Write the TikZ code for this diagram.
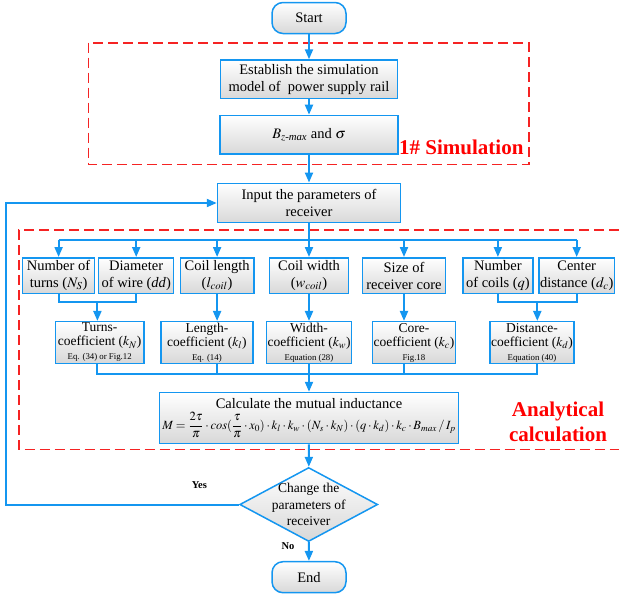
\documentclass[tikz,border=0pt]{standalone}
\usepackage{amsmath}
\usepackage{mathptmx}
\usepackage{fontspec}
\setmainfont{Liberation Serif}
\usetikzlibrary{arrows.meta,shapes.geometric,calc}
\definecolor{fcblue}{RGB}{20,150,240}
\definecolor{fcred}{RGB}{245,35,35}
\definecolor{fcgray}{RGB}{216,216,216}
\newcommand{\mainsz}{\fontsize{14.5}{17}\selectfont}
\newcommand{\coefsz}{\fontsize{13.5}{14}\selectfont}
\newcommand{\notesz}{\fontsize{8.8}{10}\selectfont}

\begin{document}
\begin{tikzpicture}[x=1pt,y=-1pt,
  box/.style={draw=fcblue,line width=1.5pt,top color=white,bottom color=fcgray,
    align=center,inner sep=1pt,font=\mainsz},
  term/.style={box,rounded corners=11pt,minimum width=74pt,minimum height=31pt},
  bigbox/.style={box,minimum width=#1,minimum height=38.5pt},
  parbox/.style={box,minimum width=#1,minimum height=35.5pt},
  coefbox/.style={box,font=\coefsz,minimum width=#1,minimum height=41.6pt},
  decide/.style={diamond,draw=fcblue,line width=1.5pt,top color=white,bottom color=fcgray,
    minimum width=138pt,minimum height=74pt,inner sep=0pt},
  flow/.style={draw=fcblue,line width=2pt},
  arr/.style={flow,-{Triangle[width=8pt,length=10pt]}},
  zone/.style={draw=fcred,line width=1.6pt,dash pattern=on 10pt off 5pt},
  zonelab/.style={text=red,font=\fontsize{21}{25}\selectfont\bfseries,align=center},
  yesno/.style={font=\fontsize{10.5}{12}\selectfont\bfseries}]
  \useasboundingbox (0,0) rectangle (619,598);

  \draw[zone] (88.4,42.7) rectangle (529,164.3);
  \draw[zone] (619,230) -- (19,230) -- (19,449.5) -- (619,449.5);
  \node[zonelab,anchor=east] (simlab) at (527,147) {1\# Simulation};
  \node[zonelab] (analab) at (558,421.5) {Analytical\\calculation};

  \node[term] (start) at (309,18) {Start};
  \node[bigbox=177pt] (estab) at (309,79.3) {Establish the simulation\\model of\ \ power supply rail};
  \node[bigbox=178pt] (bz) at (309,134.7) {$B_{z\textit{-max}}$ and $\sigma$};
  \node[bigbox=183pt,minimum height=39.4pt] (input) at (309,203) {Input the parameters of\\receiver};

  \node[parbox=72pt] (turns) at (58.6,275.5) {Number of\\turns ($N_S$)};
  \node[parbox=75pt] (wire) at (136.2,275.5) {Diameter\\of wire (\textit{dd})};
  \node[parbox=73.4pt] (clen) at (217.1,275.5) {Coil length\\($l_{coil}$)};
  \node[parbox=79pt] (cwid) at (309,275.5) {Coil width\\($w_{coil}$)};
  \node[parbox=83.3pt] (core) at (404,275.5) {Size of\\receiver core};
  \node[parbox=70.3pt] (ncoil) at (497.9,275.5) {Number\\of coils ($q$)};
  \node[parbox=75.5pt] (cdist) at (576.7,275.5) {Center\\distance ($d_c$)};

  \node[coefbox=88.7pt] (kn) at (99.7,342.5) {Turns-\\coefficient ($k_N$)\\{\notesz Eq. (34) or Fig.12}};
  \node[coefbox=91.7pt] (kl) at (206.9,342.5) {Length-\\coefficient ($k_l$)\\{\notesz Eq. (14)}};
  \node[coefbox=82.9pt] (kw) at (309,342.5) {Width-\\coefficient ($k_w$)\\{\notesz Equation (28)}};
  \node[coefbox=82.3pt] (kc) at (413.9,342.5) {Core-\\coefficient ($k_c$)\\{\notesz Fig.18}};
  \node[coefbox=73pt] (kd) at (532,342.5) {Distance-\\coefficient ($k_d$)\\{\notesz Equation (40)}};

  \node[box,minimum width=299pt,minimum height=51pt,inner sep=0pt] (calc) at (309,418)
    {Calculate the mutual inductance\\[4pt]
     {\fontsize{12.5}{13}\selectfont$M=\dfrac{2\tau}{\pi}\cdot cos(\dfrac{\tau}{\pi}\cdot x_0)\cdot k_l\cdot k_w\cdot(N_s\cdot k_N)\cdot(q\cdot k_d)\cdot k_c\cdot B_{max}\,/\,I_p$}};

  \node[decide,label={[font=\fontsize{13.5}{16.5}\selectfont,align=center]center:Change the\\parameters of\\receiver}] (chg) at (308.7,504.5) {};
  \node[term] (finish) at (309,577.2) {End};
  \node[yesno] (yes) at (199.4,485) {Yes};
  \node[yesno] (no) at (288,546) {No};

  \coordinate (busa) at (0,240);
  \coordinate (mrg) at (0,302.3);
  \coordinate (busb) at (0,374.3);
  \coordinate (loopc) at (6,0);
  \coordinate (m1) at ($(turns |- mrg)!0.5!(wire |- mrg)$);
  \coordinate (m2) at ($(ncoil |- mrg)!0.5!(cdist |- mrg)$);

  \draw[arr] (start) -- (estab);
  \draw[arr] (estab) -- (bz);
  \draw[arr] (bz) -- (input);
  \draw[flow] (input) -- (input |- busa);
  \draw[flow] (busa -| turns) -- (busa -| cdist);
  \foreach \n in {turns,wire,clen,cwid,core,ncoil,cdist}
    \draw[arr] (busa -| \n) -- (\n);

  \draw[flow] (turns) -- (turns |- mrg) -- (wire |- mrg) -- (wire);
  \draw[flow] (ncoil) -- (ncoil |- mrg) -- (cdist |- mrg) -- (cdist);
  \draw[arr] (m1) -- (m1 |- kn.north);
  \draw[arr] (clen) -- (clen |- kl.north);
  \draw[arr] (cwid) -- (kw);
  \draw[arr] (core) -- (core |- kc.north);
  \draw[arr] (m2) -- (m2 |- kd.north);

  \draw[flow] (m1 |- kn.south) -- (m1 |- busb) -- (m2 |- busb) -- (m2 |- kd.south);
  \draw[flow] (clen |- kl.south) -- (clen |- busb);
  \draw[flow] (kw) -- (kw |- busb);
  \draw[flow] (core |- kc.south) -- (core |- busb);
  \draw[arr] (kw |- busb) -- (calc);

  \draw[arr] (calc) -- (chg);
  \draw[arr] (chg) -- (finish);
  \draw[arr] (chg.west) -- (chg.west -| loopc) |- (input.west);
\end{tikzpicture}
\end{document}
